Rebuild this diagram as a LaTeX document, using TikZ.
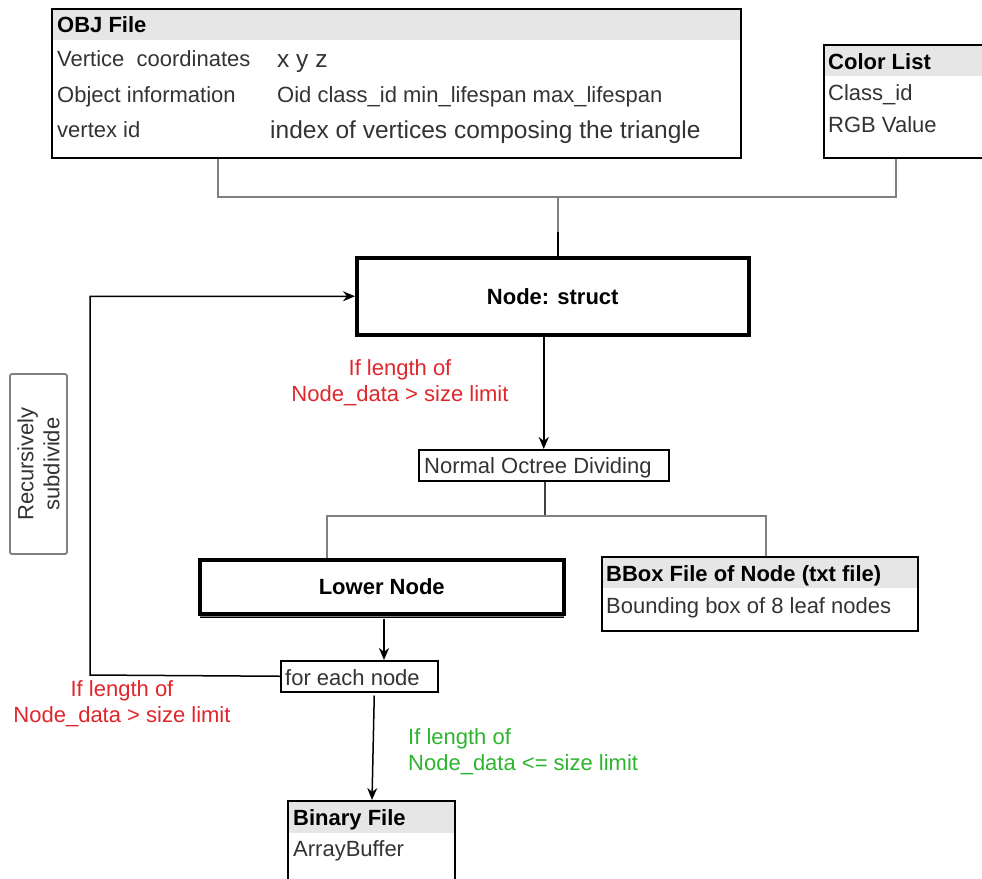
\documentclass[tikz,border=0pt]{standalone}
\usepackage{fontspec}
\setmainfont{Liberation Sans}
\usetikzlibrary{arrows.meta}

\definecolor{hdr}{HTML}{E6E6E6}
\definecolor{txt}{HTML}{333333}
\definecolor{wire}{HTML}{808080}
\definecolor{warn}{HTML}{E0262B}
\definecolor{ok}{HTML}{2DB42D}

\tikzset{
  lbl/.style={font=\fontsize{22}{26}\selectfont, text=txt, inner sep=0pt, anchor=base west},
  big/.style={lbl, font=\fontsize{24.5}{28}\selectfont},
  head/.style={lbl, font=\fontsize{22}{26}\selectfont\bfseries, text=black},
  frame/.style={draw=black, line width=1.5pt, anchor=north west, inner sep=0pt},
  heavy/.style={draw=black, line width=3.5pt, anchor=north west, inner sep=0pt,
    font=\fontsize{22}{26}\selectfont\bfseries},
  wireline/.style={draw=wire, line width=2pt},
  flow/.style={draw=black, line width=1.5pt, -{Stealth[length=12pt,width=10pt]}},
  plain/.style={draw=black, line width=1.5pt},
  note/.style={font=\fontsize{22}{26}\selectfont, inner sep=0pt, align=center},
}

\begin{document}
\begin{tikzpicture}[x=1pt,y=-1pt]
\useasboundingbox (0,0) rectangle (982,878);
\clip (0,0) rectangle (982,878);

% OBJ file table
\fill[hdr] (51,8) rectangle (740,40);
\node[frame, minimum width=689pt, minimum height=149pt] (obj) at (51,8) {};
\node[head] (objh) at (57,32) {OBJ File};
\node[lbl] (objr1) at (57,66) {Vertice\ \ coordinates};
\node[big] (objv1) at (277,67) {x y z};
\node[lbl] (objr2) at (57,102) {Object information};
\node[lbl] (objv2) at (277,102) {Oid class\_id min\_lifespan max\_lifespan};
\node[lbl] (objr3) at (57,137) {vertex id};
\node[big] (objv3) at (270,138) {index of vertices composing the triangle};

% colour list table
\fill[hdr] (823,44) rectangle (995,76);
\node[frame, minimum width=172pt, minimum height=113pt] (col) at (823,44) {};
\node[head] (colh) at (828,69) {Color List};
\node[lbl] (colr1) at (828,100) {Class\_id};
\node[lbl] (colr2) at (828,132) {RGB Value};

% node structure
\node[heavy, minimum width=392pt, minimum height=77pt] (ns) at (355,256) {Node: struct};

% merge of the two inputs
\coordinate (join) at (558,197);
\coordinate (joinlow) at (558,232);
\draw[wireline] ([xshift=167pt]obj.south west) |- (join);
\draw[wireline] ([xshift=73pt]col.south west) |- (join);
\draw[wireline] (join) -- (joinlow);
\draw[plain] (joinlow) -- (ns.north -| joinlow);

% octree split
\node[frame, minimum width=250pt, minimum height=31pt] (oct) at (418,449) {};
\node[lbl] (octt) at (424,473) {Normal Octree Dividing};
\draw[flow] (ns.south -| oct.north) -- (oct.north);
\node[note, text=warn] (cond1) at (400,383) {If length of\\Node\_data > size limit};

% outputs of the split
\node[heavy, minimum width=364pt, minimum height=54pt] (low) at (198,558) {Lower Node};
\fill[wire] ([xshift=1.75pt]low.south west) rectangle ([xshift=-1.75pt,yshift=-1.2pt]low.south east);
\draw[line width=1.5pt] ([xshift=1.75pt,yshift=-1.8pt]low.south west) -- ([xshift=-1.75pt,yshift=-1.8pt]low.south east);

\fill[hdr] (601,556) rectangle (917,588);
\node[frame, minimum width=316pt, minimum height=74pt] (bbox) at (601,556) {};
\node[head] (bboxh) at (606,581) {BBox File of Node (txt file)};
\node[lbl] (bboxr) at (606,613) {Bounding box of 8 leaf nodes};

\coordinate (split) at (545,516);
\draw[line width=1.3pt, draw=black!75] (oct.south -| split) -- (split);
\draw[wireline] (low.north -| 327,0) |- (split) -| ([xshift=165pt]bbox.north west);

% per-node loop
\node[frame, minimum width=157pt, minimum height=31pt] (each) at (280,660) {};
\node[lbl] (eacht) at (285,685) {for each node};
\draw[flow] (low.south -| 384,0) ++(0,3) -- (each.north -| 384,0);
\coordinate (loopc) at (90,675);
\draw[flow] (each.west) -- (loopc) |- (ns.west);

\node[draw=wire, rounded corners=2pt, line width=1.8pt, rotate=90,
      minimum width=180pt, minimum height=57pt, note, text=txt] (rec) at (38.5,464) {Recursively\\subdivide};
\node[note, text=warn] (cond2) at (122,704) {If length of\\Node\_data > size limit};

% leaf output
\fill[hdr] (287,800) rectangle (454,833);
\node[frame, minimum width=167pt, minimum height=100pt] (bin) at (287,800) {};
\node[head] (binh) at (293,825) {Binary File};
\node[lbl] (binr) at (293,856) {ArrayBuffer};
\draw[flow] ([xshift=15pt,yshift=-3pt]each.south) -- ([xshift=85pt]bin.north west);
\node[note, align=left, anchor=west, text=ok] (cond3) at (408,751.5) {If length of\\Node\_data <= size limit};
\end{tikzpicture}
\end{document}
